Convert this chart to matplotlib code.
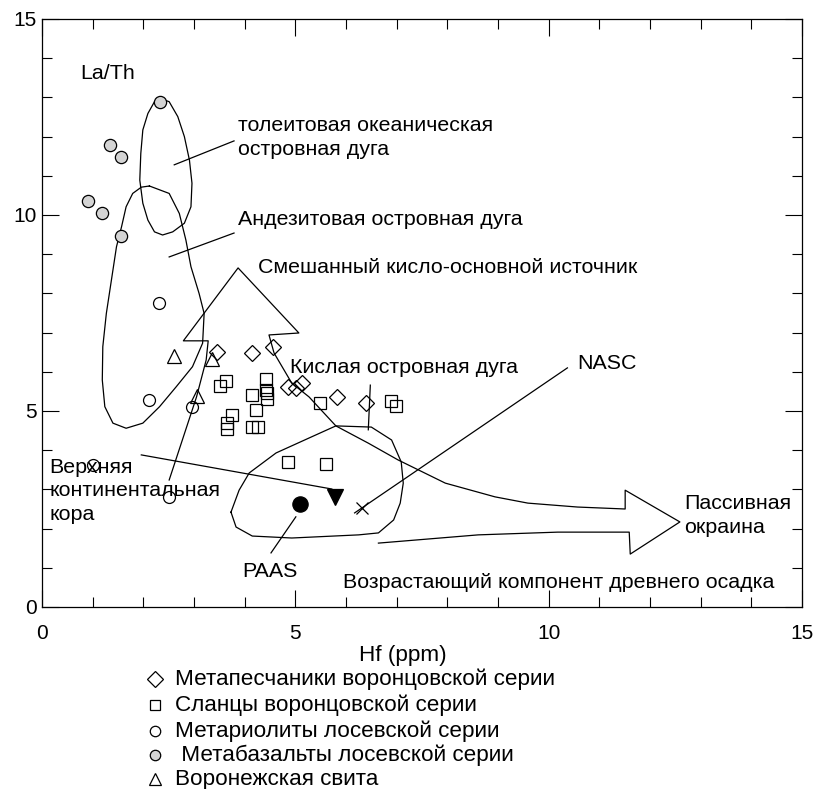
import matplotlib
matplotlib.use("Agg")
import matplotlib.pyplot as plt
from matplotlib.lines import Line2D
from matplotlib.ticker import MultipleLocator

plt.rcParams['font.family'] = ['Liberation Sans', 'DejaVu Sans']

# --- точки (Hf, La/Th) ---
metasand_hf = [3.46, 4.15, 4.56, 4.85, 5.01, 5.13, 5.83, 6.39]
metasand_lt = [6.51, 6.48, 6.63, 5.61, 5.59, 5.71, 5.36, 5.20]

shale_hf = [3.63, 3.52, 4.42, 4.42, 4.44, 4.44, 4.15, 4.22, 3.75, 3.65, 3.65, 4.15, 4.26,
            5.48, 6.88, 6.99, 4.85, 5.60]
shale_lt = [5.77, 5.64, 5.82, 5.54, 5.46, 5.31, 5.41, 5.03, 4.90, 4.69, 4.54, 4.59, 4.59,
            5.20, 5.26, 5.13, 3.70, 3.65]

rhyol_hf = [2.30, 2.12, 2.97, 1.00, 2.50]
rhyol_lt = [7.76, 5.28, 5.10, 3.62, 2.81]

basalt_hf = [2.32, 1.34, 1.55, 0.90, 1.18, 1.55]
basalt_lt = [12.88, 11.79, 11.48, 10.36, 10.05, 9.46]

vor_hf = [2.61, 3.36, 3.05]
vor_lt = [6.40, 6.33, 5.38]

paas = (5.09, 2.63)
ucc = (5.78, 2.81)
nasc = (6.31, 2.53)

# --- поля диаграммы ---
thol_hf = [2.32, 2.51, 2.68, 2.81, 2.91, 2.96, 2.94, 2.81, 2.58, 2.38, 2.22, 2.09, 1.99,
           1.93, 1.95, 1.99, 2.09, 2.22, 2.32]
thol_lt = [12.98, 12.89, 12.51, 12.0, 11.40, 10.81, 10.21, 9.79, 9.57, 9.49, 9.57, 9.87,
           10.30, 10.89, 11.57, 12.17, 12.59, 12.89, 12.98]

andes_hf = [2.12, 2.51, 2.71, 2.84, 2.94, 3.10, 3.20, 3.17, 2.97, 2.65, 2.32, 1.99, 1.66,
            1.40, 1.24, 1.19, 1.20, 1.27, 1.37, 1.47, 1.57, 1.66, 1.79, 1.96, 2.12]
andes_lt = [10.74, 10.55, 10.04, 9.36, 8.68, 8.00, 7.49, 6.73, 6.13, 5.62, 5.11, 4.69, 4.56,
            4.69, 5.11, 5.79, 6.64, 7.49, 8.34, 9.19, 9.70, 10.21, 10.55, 10.71, 10.74]

arrow_hf = [2.51, 2.77, 3.05, 3.24, 3.28, 2.79, 3.87, 5.07, 4.48, 4.58, 4.93, 5.27, 5.80,
            6.44, 7.03, 7.96, 8.94, 9.59, 10.57, 11.51, 11.51, 12.59, 11.61, 11.59, 10.18,
            8.61, 6.64]
arrow_lt = [3.24, 4.26, 5.36, 6.30, 6.79, 6.79, 8.65, 6.99, 6.94, 6.48, 5.71, 5.36, 4.62,
            4.18, 3.75, 3.16, 2.81, 2.65, 2.55, 2.50, 2.98, 2.17, 1.35, 1.91, 1.91, 1.84,
            1.63]

pas_hf = [3.73, 3.89, 4.09, 4.62, 5.32, 5.80, 6.50, 6.90, 7.09, 7.13, 7.07, 6.94, 6.64,
          6.25, 4.93, 4.15, 3.83, 3.73]
pas_lt = [2.42, 2.98, 3.42, 3.93, 4.34, 4.62, 4.59, 4.26, 3.70, 3.16, 2.65, 2.22, 1.89,
          1.84, 1.76, 1.81, 2.04, 2.42]

# выноски
leaders = [
    ([2.61, 3.79], [11.28, 11.89]),
    ([2.51, 3.79], [8.93, 9.54]),
    ([6.48, 6.44], [5.66, 4.52]),
    ([6.17, 10.37], [2.40, 6.10]),
    ([1.96, 5.72], [3.88, 3.01]),
    ([5.01, 4.52], [2.30, 1.38]),
]

W, H = 814, 789
fig = plt.figure(figsize=(W / 100, H / 100), dpi=100)
ax = fig.add_axes([42 / W, 1 - 607 / H, (802 - 42) / W, (607 - 19) / H])

lw = 0.9
for xs, ys in [(thol_hf, thol_lt), (andes_hf, andes_lt), (arrow_hf, arrow_lt), (pas_hf, pas_lt)]:
    ax.plot(xs, ys, color='black', lw=lw)
for xs, ys in leaders:
    ax.plot(xs, ys, color='black', lw=lw)

mk = dict(linestyle='none', markeredgecolor='black', markeredgewidth=0.9)
ax.plot(metasand_hf, metasand_lt, marker='D', ms=8.3, mfc='none', **mk)
ax.plot(shale_hf, shale_lt, marker='s', ms=8.4, mfc='none', **mk)
ax.plot(rhyol_hf, rhyol_lt, marker='o', ms=8.6, mfc='none', **mk)
ax.plot(basalt_hf, basalt_lt, marker='o', ms=8.8, mfc='#d4d4d4', **mk)
ax.plot(vor_hf, vor_lt, marker='^', ms=10, mfc='none', **mk)
ax.plot(*paas, marker='o', ms=11, mfc='black', **mk)
ax.plot(*ucc, marker='v', ms=11, mfc='black', **mk)
ax.plot(*nasc, marker='x', ms=8, color='black', mew=0.9, linestyle='none')

fs = 15.4
ax.text(0.75, 13.6, 'La/Th', fontsize=fs, va='center')
ax.text(3.87, 11.98, 'толеитовая океаническая\nостровная дуга', fontsize=fs, va='center',
        linespacing=1.3)
ax.text(3.87, 9.88, 'Андезитовая островная дуга', fontsize=fs, va='center')
ax.text(4.26, 8.65, 'Смешанный кисло-основной источник', fontsize=fs, va='center')
ax.text(4.9, 6.12, 'Кислая островная дуга', fontsize=fs, va='center')
ax.text(10.57, 6.22, 'NASC', fontsize=fs, va='center')
ax.text(0.15, 2.96, 'Верхняя\nконтинентальная\nкора', fontsize=fs, va='center',
        linespacing=1.3)
ax.text(4.5, 0.9, 'PAAS', fontsize=fs, va='center', ha='center')
ax.text(5.94, 0.62, 'Возрастающий компонент древнего осадка', fontsize=fs, va='center')
ax.text(12.68, 2.33, 'Пассивная\nокраина', fontsize=fs, va='center', linespacing=1.3)

ax.set_xlim(0, 15)
ax.set_ylim(0, 15)
for a in (ax.xaxis, ax.yaxis):
    a.set_major_locator(MultipleLocator(5))
    a.set_minor_locator(MultipleLocator(1))
ax.tick_params(which='both', direction='in', top=True, right=True, width=0.8,
               labelsize=15)
ax.tick_params(which='major', length=12)
ax.tick_params(which='minor', length=7)
ax.tick_params(axis='x', pad=12)
ax.tick_params(axis='y', pad=4)
for s in ax.spines.values():
    s.set_linewidth(0.9)

fig.text(403 / W, 1 - 655 / H, 'Hf (ppm)', fontsize=16.2, ha='center', va='center')

# легенда
leg_rows = [
    ('D', 'none', 'Метапесчаники воронцовской серии', 8),
    ('s', 'none', 'Сланцы воронцовской серии', 7.8),
    ('o', 'none', 'Метариолиты лосевской серии', 7.5),
    ('o', '#d4d4d4', ' Метабазальты лосевской серии', 7.5),
    ('^', 'none', 'Воронежская свита', 9),
]
leg_y = [679, 705, 731, 755, 779]
for (m, fc, label, size), y in zip(leg_rows, leg_y):
    fig.add_artist(Line2D([155 / W], [1 - y / H], transform=fig.transFigure, marker=m,
                          ms=size, mfc=fc, mec='black', mew=0.9, linestyle='none'))
    fig.text(175 / W, 1 - y / H, label, fontsize=16.2, va='center')

fig.savefig('out.png', dpi=100)
